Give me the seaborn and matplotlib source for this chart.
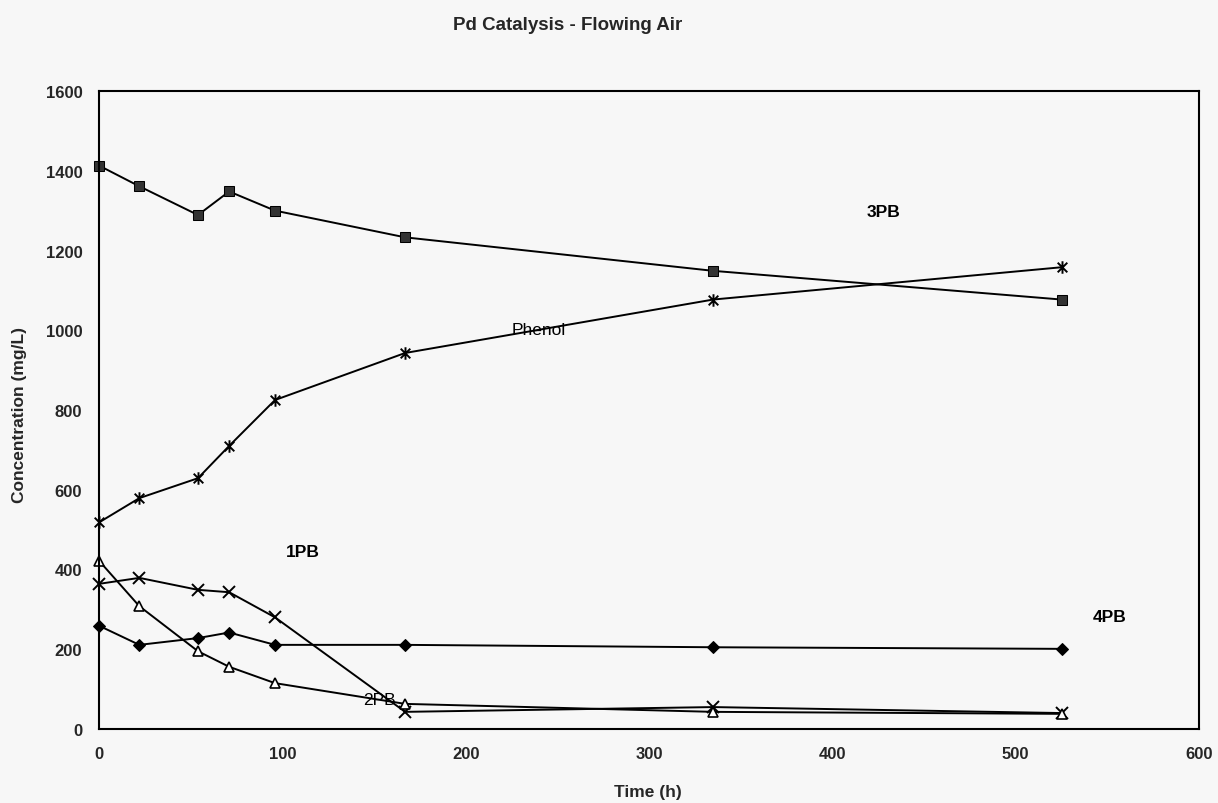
import numpy as np
import pandas as pd
import matplotlib
matplotlib.use("Agg")
import matplotlib.pyplot as plt
from matplotlib.path import Path
import seaborn as sns

# ---- data ----
time_h = [0, 22, 54, 71, 96, 167, 335, 525]
pb3 = [1413, 1361, 1289, 1348, 1300, 1233, 1149, 1077]
phenol = [518, 579, 629, 710, 825, 943, 1077, 1158]
pb1 = [364, 379, 349, 343, 280, 43, 55, 40]
pb2 = [422, 308, 195, 156, 115, 63, 43, 38]
pb4 = [259, 211, 228, 242, 211, 211, 205, 201]

labels = ["3PB", "Phenol", "1PB", "2PB", "4PB"]
label_pos_t = [428, 240, 111, 153, 551]
label_pos_c = [1297, 1003, 444, 75, 283]

x_ticks = [0, 100, 200, 300, 400, 500, 600]
y_ticks = [0, 200, 400, 600, 800, 1000, 1200, 1400, 1600]

sns.set_theme(style="white")
plt.rcParams['font.family'] = ['Liberation Sans', 'DejaVu Sans']

# asterisk marker: X with a vertical bar (Excel style)
star = Path([(-1, -1), (1, 1), (-1, 1), (1, -1), (0, -1.3), (0, 1.3)],
            [Path.MOVETO, Path.LINETO, Path.MOVETO, Path.LINETO, Path.MOVETO, Path.LINETO])

bg = "#f7f7f7"
fig = plt.figure(figsize=(12.18, 8.04), dpi=100, facecolor=bg)
ax = fig.add_axes([99/1218, 74/804, 1100/1218, 638/804])
ax.set_facecolor(bg)

lw = 1.4
series = [
    (pb3, dict(marker="s", markersize=7, markerfacecolor="#333333", markeredgecolor="black")),
    (phenol, dict(marker=star, markersize=9, markeredgecolor="black", markeredgewidth=1.4)),
    (pb1, dict(marker="x", markersize=8, markeredgecolor="black", markeredgewidth=1.4)),
    (pb2, dict(marker="^", markersize=7, markerfacecolor="white", markeredgecolor="black", markeredgewidth=1.2)),
    (pb4, dict(marker="D", markersize=6, markerfacecolor="black", markeredgecolor="black")),
]
for vals, kw in series:
    df = pd.DataFrame({"t": time_h, "c": vals})
    sns.lineplot(data=df, x="t", y="c", ax=ax, color="black", linewidth=lw, clip_on=False, **kw)

weights = ["bold", "normal", "bold", "normal", "bold"]
for lab, tx, cy, w in zip(labels, label_pos_t, label_pos_c, weights):
    ax.text(tx, cy, lab, ha="center", va="center", fontsize=12.5, fontweight=w, color="black")

ax.set_xlim(0, 600)
ax.set_ylim(0, 1600)
ax.set_xticks(x_ticks)
ax.set_yticks(y_ticks)
ax.set_xticklabels([str(v) for v in x_ticks], fontsize=12, fontweight="bold")
ax.set_yticklabels([str(v) for v in y_ticks], fontsize=12, fontweight="bold")
ax.tick_params(axis="both", direction="inout", length=8, width=1, color="black", pad=8)
ax.set_xlabel("")
ax.set_ylabel("")
for s in ax.spines.values():
    s.set_color("black")
    s.set_linewidth(1.5)

fig.text(568/1218, 1 - 26/804, "Pd Catalysis - Flowing Air", ha="center", va="center",
         fontsize=13.5, fontweight="bold")
fig.text(648/1218, 1 - 793/804, "Time (h)", ha="center", va="center",
         fontsize=12.5, fontweight="bold")
fig.text(20/1218, 1 - 415/804, "Concentration (mg/L)", ha="center", va="center",
         rotation=90, fontsize=12.5, fontweight="bold")

fig.savefig("out.png", dpi=100, facecolor=bg)
